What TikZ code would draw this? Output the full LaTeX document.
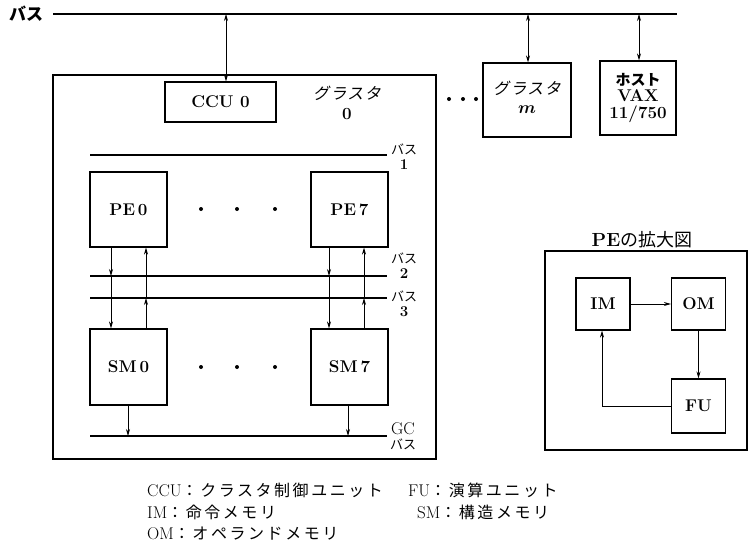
\documentclass[tikz,border=0pt]{standalone}
\usepackage{fontspec}
\usepackage{amsmath,amssymb}
\usetikzlibrary{positioning,calc,arrows.meta}
\newfontfamily\jp{Noto Sans CJK JP}
\newfontfamily\jpw[LetterSpace=16]{Noto Sans CJK JP}
\newfontfamily\jpsl[FakeSlant=0.2,LetterSpace=8]{Noto Sans CJK JP}
\tikzset{
  unit/.style={draw,line width=1.2pt,inner sep=0pt,align=center,
    font=\fontsize{17}{17}\selectfont\bfseries},
  frame/.style={draw,line width=1.1pt,inner sep=0pt},
  bus/.style={line width=1.6pt},
  link/.style={line width=0.7pt},
  buslabel/.style={inner sep=0pt,align=center,font=\fontsize{15}{15}\selectfont},
  legend/.style={anchor=west,inner sep=0pt,font=\fontsize{17}{17}\selectfont},
  dot/.style={circle,fill,inner sep=0pt,minimum size=4pt},
}

\begin{document}
\begin{tikzpicture}[x=1pt,y=-1pt,>={Stealth[length=7pt,width=4pt]}]
  \useasboundingbox (0,0) rectangle (749,547);
  % host bus
  \node[anchor=west,inner sep=0pt,font=\fontsize{17}{17}\selectfont\jp\bfseries] (hbl) at (9,14) {バス};
  \coordinate (hbw) at (53,14);
  \coordinate (hbe) at (677,14);
  \draw[bus] (hbw) -- (hbe);
  % cluster 0
  \node[frame,minimum width=383pt,minimum height=384pt] (cl0) at (244.5,267) {};
  \node[unit,minimum width=111pt,minimum height=40pt] (ccu) at (220.5,102) {CCU 0};
  \node[inner sep=0pt,align=center,font=\fontsize{17}{20}\selectfont] (cl0t) at (347,103) {{\jpsl\fontsize{16}{16}\selectfont グラスタ}\\\textbf{0}};
  \foreach \x [count=\i] in {449,463,476} \node[dot] (cd\i) at (\x,99) {};
  \node[unit,minimum width=88pt,minimum height=74pt] (clm) at (527,100) {};
  \node[inner sep=0pt,align=center,font=\fontsize{17}{19}\selectfont] (clmt) at (527,97) {{\jpsl\fontsize{16}{16}\selectfont グラスタ}\\$\boldsymbol{m}$};
  \node[unit,minimum width=76pt,minimum height=74pt,font=\fontsize{17}{16.5}\selectfont\bfseries] (host) at (638,98) {{\jp\fontsize{15}{15}\selectfont ホスト}\\VAX\\11/750};
  \coordinate (t0) at (226,14);
  \coordinate (tm) at (528,14);
  \coordinate (th) at (639,14);
  \draw[link,<->] (t0) -- (t0 |- ccu.north);
  \draw[link,<->] (tm) -- (tm |- clm.north);
  \draw[link,<->] (th) -- (th |- host.north);
  % inner buses
  \foreach \b/\y in {b1/155,b2/276,b3/298,gc/436} {
    \coordinate (\b w) at (90,\y);
    \coordinate (\b e) at (387,\y);
    \draw[bus] (\b w) -- (\b e);
  }
  \node[buslabel] (b1l) at (404,157) {{\jp\fontsize{13}{13}\selectfont バス}\\\textbf{1}};
  \node[buslabel] (b2l) at (404,266) {{\jp\fontsize{13}{13}\selectfont バス}\\\textbf{2}};
  \node[buslabel] (b3l) at (404,304) {{\jp\fontsize{13}{13}\selectfont バス}\\\textbf{3}};
  \node[buslabel,font=\fontsize{17}{15}\selectfont] (gcl) at (403,436) {GC\\{\jp\fontsize{13}{13}\selectfont バス}};
  % PE and SM
  \node[unit,minimum width=77pt,minimum height=75pt] (pe0) at (128.5,209.5) {PE\,0};
  \node[unit,minimum width=77pt,minimum height=75pt] (pe7) at (349.5,209.5) {PE\,7};
  \node[unit,minimum width=77pt,minimum height=76pt] (sm0) at (128.5,367) {SM\,0};
  \node[unit,minimum width=77pt,minimum height=76pt] (sm7) at (349.5,367) {SM\,7};
  \foreach \x [count=\i] in {201,237,275} {
    \node[dot] (pd\i) at (\x,209) {};
    \node[dot] (sd\i) at (\x,367) {};
  }
  \foreach \p/\s/\dn/\up in {pe0/sm0/111/146,pe7/sm7/329/364} {
    \draw[link,->] (\dn,0 |- \p.south) -- (\dn,0 |- b2w);
    \draw[link,->] (\dn,0 |- b2w) -- (\dn,0 |- \s.north);
    \draw[link,->] (\up,0 |- \s.north) -- (\up,0 |- b3w);
    \draw[link,->] (\up,0 |- b3w) -- (\up,0 |- \p.south);
  }
  \draw[link,->] (128,0 |- sm0.south) -- (128,0 |- gcw);
  \draw[link,->] (348,0 |- sm7.south) -- (348,0 |- gcw);
  % PE detail
  \node[inner sep=0pt,font=\fontsize{19}{19}\selectfont\bfseries] (pet) at (642,240) {PE{\jp\mdseries\fontsize{18}{18}\selectfont の拡大図}};
  \node[frame,minimum width=202pt,minimum height=199pt] (pebox) at (646,350.5) {};
  \node[unit,minimum width=54pt,minimum height=52pt] (im) at (603,304) {IM};
  \node[unit,minimum width=54pt,minimum height=52pt] (om) at (698.5,304) {OM};
  \node[unit,minimum width=54pt,minimum height=54pt] (fu) at (698.5,406) {FU};
  \draw[link,->] (im) -- (om);
  \draw[link,->] (om) -- (fu);
  \draw[link,->] (fu.west) -| (602,0 |- im.south);
  % legend
  \node[legend] (l1) at (147,490) {CCU{\jpw\fontsize{16}{16}\selectfont ：クラスタ制御ユニット}};
  \node[legend] (l2) at (408,490) {FU{\jpw\fontsize{16}{16}\selectfont ：演算ユニット}};
  \node[legend] (l3) at (147,512) {IM{\jpw\fontsize{16}{16}\selectfont ：命令メモリ}};
  \node[legend] (l4) at (417,512) {SM{\jpw\fontsize{16}{16}\selectfont ：構造メモリ}};
  \node[legend] (l5) at (147,534) {OM{\jpw\fontsize{16}{16}\selectfont ：オペランドメモリ}};
\end{tikzpicture}
\end{document}
